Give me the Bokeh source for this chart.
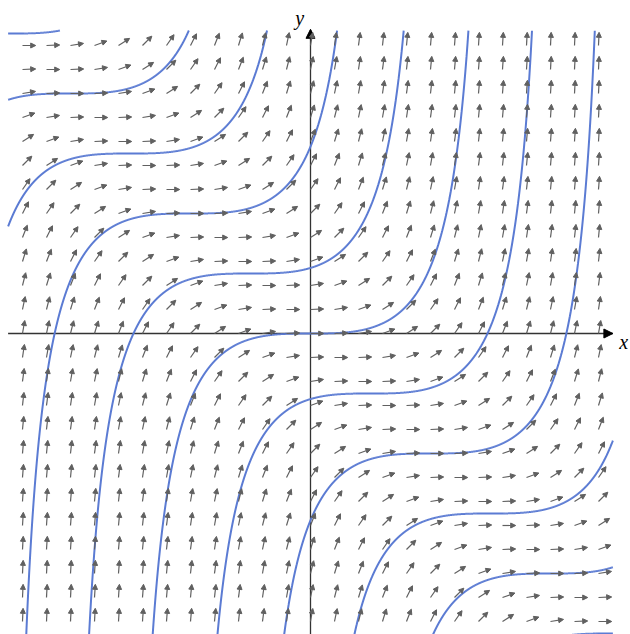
import numpy as np
from bokeh.plotting import figure
from bokeh.models import ColumnDataSource, Arrow, NormalHead, Range1d
from bokeh.core.properties import value
from bokeh.embed import file_html
from bokeh.resources import INLINE

# Slope field of dy/dx = (x + y)^2 ; solutions y = tan(x - a) - x (flat at (a, -a))
grid_x = [-2.4, -2.2, -2.0, -1.8, -1.6, -1.4, -1.2, -1.0, -0.8, -0.6, -0.4, -0.2, 0.0,
          0.2, 0.4, 0.6, 0.8, 1.0, 1.2, 1.4, 1.6, 1.8, 2.0, 2.2, 2.4]
grid_y = list(grid_x)
curve_a = [-2.5, -2.0, -1.5, -1.0, -0.5, 0.0, 0.5, 1.0, 1.5, 2.0, 2.5]
x_label = "x"
y_label = "y"

def slope(x, y):
    return (x + y) ** 2

W, H = 630, 634
ox, oy = 310, 333      # origin in figure pixels
S = 120.0              # pixels per unit
x0, x1 = -ox / S, (W - ox) / S
y1, y0 = oy / S, -(H - oy) / S
XMIN, XMAX, YMIN, YMAX = -2.52, 2.52, -2.52, 2.525

p = figure(width=W, height=H, output_backend="svg", toolbar_location=None,
           x_range=Range1d(x0, x1), y_range=Range1d(y0, y1),
           min_border=0, outline_line_color=None)
p.axis.visible = False
p.grid.visible = False
p.background_fill_color = "white"

# axes drawn as glyphs
axis_col = "#333333"
p.segment(x0=[XMIN], y0=[0], x1=[2.52], y1=[0], line_color=axis_col, line_width=1.3)
p.segment(x0=[0], y0=[y0], x1=[0], y1=[2.53], line_color=axis_col, line_width=1.3)
p.add_layout(Arrow(end=NormalHead(size=9, fill_color="black", line_color="black"),
                   x_start=2.45, y_start=0, x_end=2.52, y_end=0,
                   line_color=axis_col, line_width=1.3))
p.add_layout(Arrow(end=NormalHead(size=9, fill_color="black", line_color="black"),
                   x_start=0, y_start=2.45, x_end=0, y_end=2.535,
                   line_color=axis_col, line_width=1.3))

# slope field arrows
L = 0.11
xs, ys, xe, ye = [], [], [], []
for gy in grid_y:
    for gx in grid_x:
        m = slope(gx, gy)
        n = np.hypot(1.0, m)
        xs.append(gx); ys.append(gy)
        xe.append(gx + L / n); ye.append(gy + L * m / n)
src = ColumnDataSource(dict(xs=xs, ys=ys, xe=xe, ye=ye))
p.add_layout(Arrow(end=NormalHead(size=5, fill_color="#606060", line_color="#606060", line_width=1),
                   x_start="xs", y_start="ys", x_end="xe", y_end="ye", source=src,
                   line_color="#606060", line_width=1.2))

# solution curves, clipped to the drawing box
for a in curve_a:
    u = np.linspace(-np.pi / 2 + 1e-4, np.pi / 2 - 1e-4, 20000)
    x = u + a
    y = np.tan(u) - x
    keep = (x >= XMIN) & (x <= XMAX) & (y >= YMIN) & (y <= YMAX)
    if keep.sum() > 1:
        xx = np.where(keep, x, np.nan)
        yy = np.where(keep, y, np.nan)
        p.line(xx, yy, line_color="#5B7BD3", line_width=2)

p.text(x=[2.61], y=[-0.07], text=[x_label], text_font=value("Liberation Serif"),
       text_font_style="italic", text_font_size="20px", text_align="center",
       text_baseline="middle", text_color="black")
p.text(x=[-0.09], y=[2.63], text=[y_label], text_font=value("Liberation Serif"),
       text_font_style="italic", text_font_size="20px", text_align="center",
       text_baseline="middle", text_color="black")

open("out.html", "w").write(file_html(p, INLINE))
